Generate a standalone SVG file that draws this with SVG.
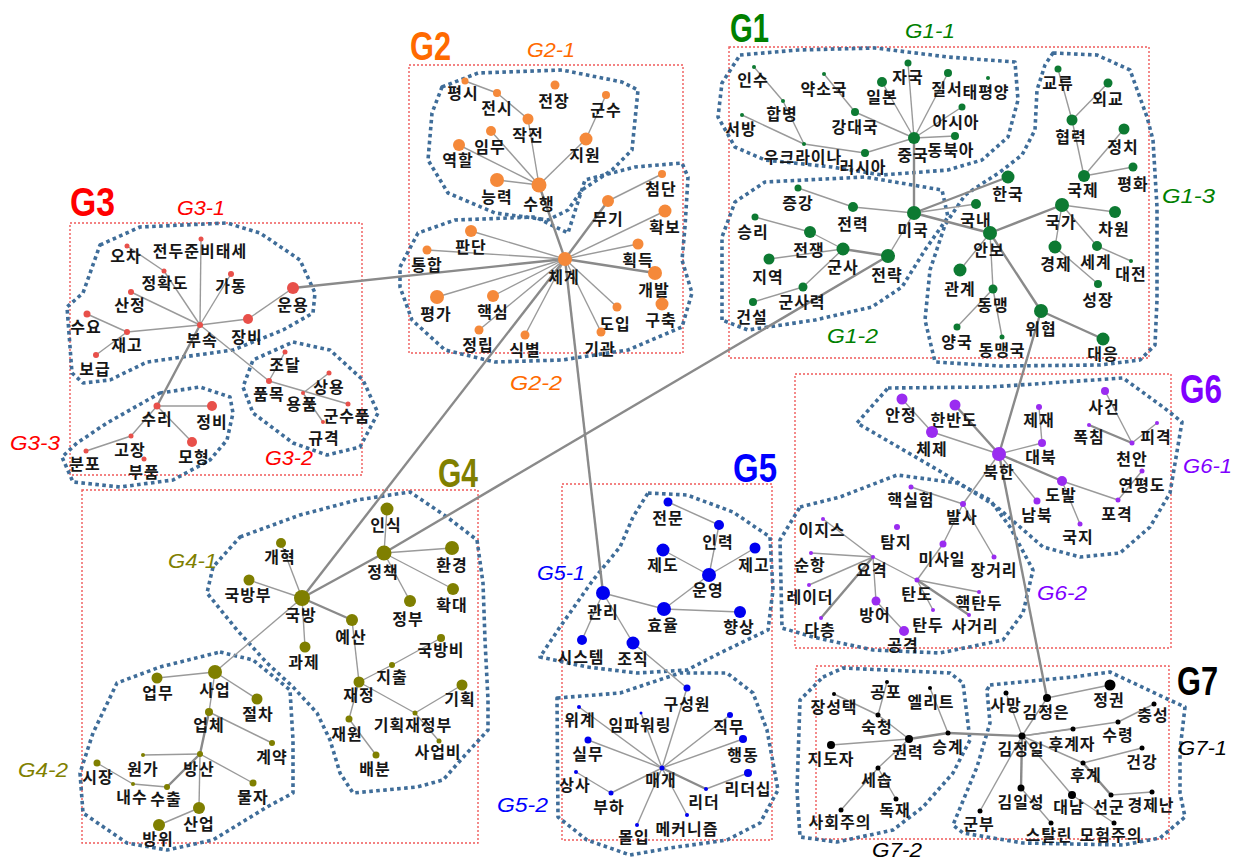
<svg xmlns="http://www.w3.org/2000/svg" width="1239" height="860" viewBox="0 0 1239 860">
<style>
.bg{fill:#fff}
.box{fill:none;stroke:#ef5a5a;stroke-width:1.4;stroke-dasharray:2 2}
.hull{fill:none;stroke:#3f6d99;stroke-width:3.6;stroke-dasharray:3.6 3.4;stroke-linejoin:round}
.e{stroke:#9a9a9a;stroke-width:1.4}
.t{stroke:#8a8a8a;stroke-width:2.4}
.n text{font-family:"Noto Sans CJK KR","Noto Sans",sans-serif;font-weight:bold;font-size:16px;letter-spacing:1px;fill:#161616;text-anchor:middle}
.c3 circle{fill:#e8504a}.c2 circle{fill:#f5893a}.c1 circle{fill:#0d7a32}.c6 circle{fill:#9a2cf0}.c4 circle{fill:#7f7f00}.c5 circle{fill:#0000f0}.c7 circle{fill:#000}
.tt{font-family:"Liberation Sans Narrow","Liberation Sans",sans-serif;font-weight:bold;font-size:40px}
.st{font-family:"Liberation Sans Narrow","Liberation Sans",sans-serif;font-style:italic;font-size:20px}
</style>
<rect class="bg" width="1239" height="860"/>
<g id="boxes">
<rect class="box" x="70" y="223" width="292" height="252"/>
<rect class="box" x="409" y="65" width="274" height="288"/>
<rect class="box" x="729" y="47" width="420" height="311"/>
<rect class="box" x="795" y="374" width="376" height="274"/>
<rect class="box" x="82" y="490" width="396" height="353"/>
<rect class="box" x="562" y="484" width="210" height="356"/>
<rect class="box" x="816" y="666" width="353" height="173"/>
</g>
<g id="hulls">
<polygon class="hull" points="100,245 140,227 227,223 260,233 300,260 315,293 313,313 283,330 233,350 147,362 110,380 83,383 72,373 67,307 83,293"/>
<polygon class="hull" points="293,342 330,350 363,380 378,413 360,447 327,455 293,443 253,413 243,387 253,360"/>
<polygon class="hull" points="160,393 200,387 230,397 233,413 227,440 210,460 173,480 120,487 73,482 62,457 77,443 107,423"/>
<polygon class="hull" points="442,87 478,73 562,70 622,82 638,90 632,150 612,170 582,190 568,210 548,220 495,213 448,193 428,160 432,113"/>
<polygon class="hull" points="400,267 418,233 455,220 535,217 568,233 585,180 635,167 682,163 688,177 685,227 682,260 692,293 682,327 628,350 562,360 495,362 445,350 412,320 400,287"/>
<polygon class="hull" points="740,55 798,50 875,48 948,57 1015,62 1018,100 1008,137 982,160 948,170 882,175 832,167 765,160 735,147 718,117 722,83"/>
<polygon class="hull" points="722,320 722,237 735,202 765,182 865,177 942,190 948,217 925,250 902,287 872,307 815,320 748,330"/>
<polygon class="hull" points="1053,53 1097,55 1130,70 1147,117 1153,140 1157,207 1157,300 1155,345 1140,360 1100,365 1000,366 935,362 925,320 930,270 945,225 965,195 1000,172 1022,155 1035,130 1037,90 1045,65"/>
<polygon class="hull" points="888,388 990,387 1123,378 1163,407 1182,422 1170,493 1150,527 1120,553 1080,557 1043,547 997,507 943,473 857,423"/>
<polygon class="hull" points="800,507 840,497 897,475 957,483 990,500 1010,527 1033,570 1023,613 1003,640 940,653 873,650 813,637 782,628 780,540"/>
<polygon class="hull" points="240,537 300,515 357,500 410,492 447,517 477,540 483,583 485,640 488,700 488,730 467,753 443,780 417,787 353,793 340,773 330,740 317,713 293,687 267,663 237,630 207,593 213,567"/>
<polygon class="hull" points="220,652 253,660 290,690 293,740 293,793 267,807 213,840 167,850 127,843 83,813 80,773 93,733 117,683 160,667"/>
<polygon class="hull" points="648,493 687,495 733,512 770,537 773,590 768,630 720,653 687,670 637,673 587,667 540,657 560,627 593,580 620,547 633,517"/>
<polygon class="hull" points="557,698 620,693 680,673 727,673 753,693 767,730 778,790 760,823 727,840 670,848 630,855 587,840 558,817"/>
<polygon class="hull" points="823,677 843,668 950,673 963,683 970,740 953,773 923,807 893,830 837,842 800,837 797,790 800,700"/>
<polygon class="hull" points="990,685 1073,677 1110,672 1163,697 1185,707 1180,750 1180,793 1185,817 1160,838 1123,845 1023,843 963,833 953,825 977,767 990,723 987,690"/>
</g>
<g id="titles">
<text class="tt" x="70" y="216" fill="#ff0000" textLength="45" lengthAdjust="spacingAndGlyphs">G3</text>
<text class="st" x="177" y="215" fill="#ff0000" textLength="48" lengthAdjust="spacingAndGlyphs">G3-1</text>
<text class="st" x="10" y="450" fill="#ff0000" textLength="50" lengthAdjust="spacingAndGlyphs">G3-3</text>
<text class="st" x="265" y="465" fill="#ff0000" textLength="48" lengthAdjust="spacingAndGlyphs">G3-2</text>
<text class="tt" x="410" y="60" fill="#ff6a00" textLength="41" lengthAdjust="spacingAndGlyphs">G2</text>
<text class="st" x="527" y="57" fill="#ff6a00" textLength="48" lengthAdjust="spacingAndGlyphs">G2-1</text>
<text class="st" x="510" y="390" fill="#ff6a00" textLength="52" lengthAdjust="spacingAndGlyphs">G2-2</text>
<text class="tt" x="730" y="42" fill="#008000" textLength="39" lengthAdjust="spacingAndGlyphs">G1</text>
<text class="st" x="905" y="38" fill="#008000" textLength="50" lengthAdjust="spacingAndGlyphs">G1-1</text>
<text class="st" x="827" y="343" fill="#008000" textLength="51" lengthAdjust="spacingAndGlyphs">G1-2</text>
<text class="st" x="1162" y="203" fill="#008000" textLength="53" lengthAdjust="spacingAndGlyphs">G1-3</text>
<text class="tt" x="1180" y="403" fill="#8000ff" textLength="42" lengthAdjust="spacingAndGlyphs">G6</text>
<text class="st" x="1183" y="473" fill="#8000ff" textLength="49" lengthAdjust="spacingAndGlyphs">G6-1</text>
<text class="st" x="1037" y="600" fill="#8000ff" textLength="50" lengthAdjust="spacingAndGlyphs">G6-2</text>
<text class="tt" x="438" y="487" fill="#808000" textLength="40" lengthAdjust="spacingAndGlyphs">G4</text>
<text class="st" x="168" y="568" fill="#808000" textLength="49" lengthAdjust="spacingAndGlyphs">G4-1</text>
<text class="st" x="18" y="777" fill="#808000" textLength="50" lengthAdjust="spacingAndGlyphs">G4-2</text>
<text class="tt" x="733" y="482" fill="#0000ff" textLength="44" lengthAdjust="spacingAndGlyphs">G5</text>
<text class="st" x="537" y="580" fill="#0000ff" textLength="48" lengthAdjust="spacingAndGlyphs">G5-1</text>
<text class="st" x="497" y="812" fill="#0000ff" textLength="51" lengthAdjust="spacingAndGlyphs">G5-2</text>
<text class="tt" x="1177" y="695" fill="#000" textLength="41" lengthAdjust="spacingAndGlyphs">G7</text>
<text class="st" x="1178" y="755" fill="#000" textLength="49" lengthAdjust="spacingAndGlyphs">G7-1</text>
<text class="st" x="872" y="857" fill="#000" textLength="50" lengthAdjust="spacingAndGlyphs">G7-2</text>
</g>
<g id="connectors">
<line class="e" x1="127" y1="246" x2="164" y2="271"/><line class="e" x1="164" y1="271" x2="200" y2="325"/><line class="e" x1="201" y1="239" x2="200" y2="325"/><line class="e" x1="231" y1="274" x2="200" y2="325"/><line class="e" x1="131" y1="292" x2="200" y2="325"/><line class="e" x1="87" y1="314" x2="127" y2="332"/><line class="e" x1="127" y1="332" x2="200" y2="325"/><line class="e" x1="96" y1="355" x2="127" y2="332"/><line class="e" x1="248" y1="319" x2="200" y2="325"/><line class="e" x1="293" y1="288" x2="248" y2="319"/><line class="e" x1="200" y1="325" x2="269" y2="381"/><line class="t" x1="200" y1="325" x2="157" y2="406"/><line class="e" x1="285" y1="352" x2="269" y2="381"/><line class="e" x1="269" y1="381" x2="348" y2="404"/><line class="e" x1="329" y1="373" x2="303" y2="393"/><line class="e" x1="303" y1="393" x2="323" y2="422"/><line class="e" x1="157" y1="406" x2="212" y2="406"/><line class="e" x1="157" y1="406" x2="131" y2="436"/><line class="e" x1="131" y1="436" x2="86" y2="451"/><line class="e" x1="157" y1="406" x2="192" y2="442"/>
<line class="t" x1="293" y1="288" x2="565" y2="259"/>
<line class="e" x1="465" y1="81" x2="497" y2="93"/><line class="e" x1="497" y1="93" x2="528" y2="119"/><line class="e" x1="528" y1="119" x2="539" y2="185"/><line class="e" x1="491" y1="131" x2="539" y2="185"/><line class="e" x1="459" y1="145" x2="539" y2="185"/><line class="e" x1="497" y1="180" x2="539" y2="185"/><line class="e" x1="586" y1="139" x2="539" y2="185"/><line class="e" x1="606" y1="95" x2="586" y2="139"/><line class="t" x1="539" y1="185" x2="565" y2="259"/><line class="e" x1="662" y1="174" x2="608" y2="201"/><line class="t" x1="608" y1="201" x2="565" y2="259"/><line class="e" x1="665" y1="211" x2="565" y2="259"/><line class="e" x1="638" y1="244" x2="565" y2="259"/><line class="t" x1="655" y1="273" x2="565" y2="259"/><line class="e" x1="471" y1="231" x2="565" y2="259"/><line class="e" x1="427" y1="250" x2="565" y2="259"/><line class="e" x1="437" y1="297" x2="565" y2="259"/><line class="e" x1="493" y1="296" x2="565" y2="259"/><line class="e" x1="479" y1="330" x2="565" y2="259"/><line class="e" x1="525" y1="335" x2="565" y2="259"/><line class="e" x1="617" y1="307" x2="565" y2="259"/><line class="e" x1="601" y1="332" x2="565" y2="259"/>
<line class="t" x1="565" y1="259" x2="302" y2="598"/><line class="t" x1="565" y1="259" x2="603" y2="593"/>
<line class="e" x1="754" y1="67" x2="783" y2="101"/><line class="e" x1="783" y1="101" x2="804" y2="144"/><line class="e" x1="742" y1="115" x2="804" y2="144"/><line class="e" x1="804" y1="144" x2="865" y2="153"/><line class="e" x1="865" y1="153" x2="914" y2="138"/><line class="e" x1="824" y1="74" x2="855" y2="112"/><line class="e" x1="855" y1="112" x2="914" y2="138"/><line class="e" x1="882" y1="82" x2="914" y2="138"/><line class="e" x1="908" y1="63" x2="914" y2="138"/><line class="e" x1="948" y1="73" x2="914" y2="138"/><line class="e" x1="962" y1="107" x2="914" y2="138"/><line class="e" x1="955" y1="136" x2="914" y2="138"/><line class="t" x1="914" y1="138" x2="914" y2="213"/>
<line class="e" x1="798" y1="188" x2="853" y2="207"/><line class="e" x1="853" y1="207" x2="914" y2="213"/><line class="e" x1="755" y1="217" x2="810" y2="232"/><line class="e" x1="810" y1="232" x2="843" y2="249"/><line class="t" x1="843" y1="249" x2="888" y2="256"/><line class="e" x1="888" y1="256" x2="914" y2="213"/><line class="e" x1="769" y1="259" x2="843" y2="249"/><line class="e" x1="843" y1="249" x2="803" y2="287"/><line class="e" x1="753" y1="302" x2="803" y2="287"/>
<line class="t" x1="888" y1="256" x2="384" y2="553"/>
<line class="e" x1="1058" y1="69" x2="1072" y2="120"/><line class="e" x1="1108" y1="83" x2="1072" y2="120"/><line class="e" x1="1072" y1="120" x2="1084" y2="176"/><line class="e" x1="1124" y1="129" x2="1084" y2="176"/><line class="e" x1="1133" y1="167" x2="1084" y2="176"/><line class="t" x1="914" y1="213" x2="1008" y2="177"/><line class="e" x1="914" y1="213" x2="976" y2="204"/><line class="t" x1="914" y1="213" x2="990" y2="233"/><line class="t" x1="990" y1="233" x2="1062" y2="205"/><line class="e" x1="1062" y1="205" x2="1115" y2="212"/><line class="e" x1="1062" y1="205" x2="1055" y2="247"/><line class="e" x1="1062" y1="205" x2="1097" y2="246"/><line class="e" x1="1097" y1="246" x2="1131" y2="261"/><line class="e" x1="1055" y1="247" x2="1098" y2="284"/><line class="e" x1="990" y1="233" x2="960" y2="270"/><line class="e" x1="990" y1="233" x2="993" y2="289"/><line class="t" x1="990" y1="233" x2="1041" y2="311"/><line class="e" x1="993" y1="289" x2="957" y2="327"/><line class="e" x1="993" y1="289" x2="1002" y2="337"/><line class="t" x1="1041" y1="311" x2="1103" y2="339"/>
<line class="t" x1="1041" y1="311" x2="999" y2="454"/>
<line class="e" x1="902" y1="399" x2="932" y2="432"/><line class="t" x1="955" y1="405" x2="999" y2="454"/><line class="e" x1="932" y1="432" x2="999" y2="454"/><line class="e" x1="1039" y1="407" x2="1042" y2="443"/><line class="e" x1="1042" y1="443" x2="999" y2="454"/><line class="t" x1="999" y1="454" x2="1062" y2="481"/><line class="e" x1="999" y1="454" x2="1037" y2="501"/><line class="e" x1="1062" y1="481" x2="1118" y2="500"/><line class="e" x1="1062" y1="481" x2="1080" y2="524"/><line class="e" x1="1105" y1="391" x2="1132" y2="443"/><line class="t" x1="1089" y1="425" x2="1132" y2="443"/><line class="e" x1="1157" y1="423" x2="1132" y2="443"/><line class="e" x1="1142" y1="471" x2="1118" y2="500"/><line class="e" x1="999" y1="454" x2="963" y2="504"/>
<line class="t" x1="999" y1="454" x2="1047" y2="698"/>
<line class="e" x1="911" y1="487" x2="963" y2="504"/><line class="e" x1="963" y1="504" x2="943" y2="544"/><line class="e" x1="963" y1="504" x2="994" y2="557"/><line class="e" x1="943" y1="544" x2="917" y2="580"/><line class="e" x1="823" y1="519" x2="873" y2="557"/><line class="e" x1="811" y1="553" x2="873" y2="557"/><line class="e" x1="809" y1="585" x2="873" y2="557"/><line class="t" x1="821" y1="618" x2="873" y2="557"/><line class="e" x1="873" y1="557" x2="876" y2="601"/><line class="e" x1="873" y1="557" x2="917" y2="580"/><line class="e" x1="917" y1="580" x2="979" y2="592"/><line class="e" x1="917" y1="580" x2="933" y2="610"/><line class="t" x1="917" y1="580" x2="969" y2="615"/><line class="e" x1="876" y1="601" x2="904" y2="631"/>
<line class="e" x1="387" y1="509" x2="384" y2="553"/><line class="e" x1="384" y1="553" x2="452" y2="548"/><line class="e" x1="384" y1="553" x2="453" y2="589"/><line class="e" x1="384" y1="553" x2="410" y2="601"/><line class="t" x1="384" y1="553" x2="302" y2="598"/><line class="e" x1="281" y1="543" x2="302" y2="598"/><line class="e" x1="249" y1="580" x2="302" y2="598"/><line class="t" x1="302" y1="598" x2="352" y2="620"/><line class="e" x1="302" y1="598" x2="305" y2="647"/><line class="e" x1="352" y1="620" x2="359" y2="682"/><line class="e" x1="359" y1="682" x2="392" y2="665"/><line class="e" x1="392" y1="665" x2="441" y2="638"/><line class="e" x1="359" y1="682" x2="415" y2="713"/><line class="e" x1="415" y1="713" x2="462" y2="685"/><line class="e" x1="415" y1="713" x2="439" y2="741"/><line class="e" x1="359" y1="682" x2="349" y2="719"/><line class="e" x1="349" y1="719" x2="376" y2="755"/>
<line class="e" x1="302" y1="598" x2="215" y2="672"/><line class="e" x1="157" y1="678" x2="215" y2="672"/><line class="e" x1="215" y1="672" x2="257" y2="699"/><line class="e" x1="215" y1="672" x2="209" y2="712"/><line class="t" x1="209" y1="712" x2="200" y2="754"/><line class="e" x1="209" y1="712" x2="272" y2="743"/><line class="e" x1="143" y1="755" x2="200" y2="754"/><line class="e" x1="200" y1="754" x2="253" y2="783"/><line class="t" x1="200" y1="754" x2="167" y2="787"/><line class="e" x1="200" y1="754" x2="199" y2="808"/><line class="e" x1="97" y1="763" x2="133" y2="784"/><line class="e" x1="133" y1="784" x2="167" y2="787"/><line class="e" x1="199" y1="808" x2="159" y2="825"/>
<line class="e" x1="668" y1="502" x2="719" y2="525"/><line class="e" x1="719" y1="525" x2="709" y2="575"/><line class="e" x1="663" y1="550" x2="709" y2="575"/><line class="e" x1="755" y1="548" x2="709" y2="575"/><line class="e" x1="709" y1="575" x2="664" y2="609"/><line class="e" x1="603" y1="593" x2="664" y2="609"/><line class="e" x1="664" y1="609" x2="740" y2="612"/><line class="e" x1="603" y1="593" x2="582" y2="640"/><line class="e" x1="603" y1="593" x2="633" y2="643"/><line class="e" x1="633" y1="643" x2="687" y2="688"/>
<line class="e" x1="662" y1="768" x2="687" y2="688"/><line class="e" x1="662" y1="768" x2="579" y2="707"/><line class="e" x1="662" y1="768" x2="641" y2="713"/><line class="e" x1="662" y1="768" x2="730" y2="715"/><line class="e" x1="662" y1="768" x2="588" y2="740"/><line class="e" x1="662" y1="768" x2="743" y2="739"/><line class="e" x1="576" y1="772" x2="611" y2="793"/><line class="e" x1="662" y1="768" x2="611" y2="793"/><line class="t" x1="662" y1="768" x2="706" y2="789"/><line class="e" x1="706" y1="789" x2="748" y2="773"/><line class="e" x1="662" y1="768" x2="687" y2="815"/><line class="e" x1="662" y1="768" x2="637" y2="825"/>
<line class="e" x1="834" y1="694" x2="878" y2="715"/><line class="e" x1="887" y1="682" x2="878" y2="715"/><line class="e" x1="878" y1="715" x2="909" y2="739"/><line class="e" x1="930" y1="688" x2="948" y2="733"/><line class="t" x1="909" y1="739" x2="948" y2="733"/><line class="e" x1="831" y1="745" x2="909" y2="739"/><line class="e" x1="909" y1="739" x2="878" y2="768"/><line class="e" x1="878" y1="768" x2="841" y2="810"/><line class="e" x1="878" y1="768" x2="896" y2="799"/><line class="t" x1="948" y1="733" x2="1022" y2="736"/>
<line class="e" x1="1047" y1="698" x2="1110" y2="685"/><line class="e" x1="1022" y1="736" x2="1047" y2="698"/><line class="e" x1="1022" y1="736" x2="1006" y2="693"/><line class="e" x1="1022" y1="736" x2="1073" y2="729"/><line class="e" x1="1022" y1="736" x2="1118" y2="722"/><line class="e" x1="1118" y1="722" x2="1154" y2="704"/><line class="e" x1="1022" y1="736" x2="1083" y2="763"/><line class="e" x1="1083" y1="763" x2="1142" y2="748"/><line class="t" x1="1083" y1="763" x2="1111" y2="795"/><line class="e" x1="1111" y1="795" x2="1152" y2="792"/><line class="t" x1="1022" y1="736" x2="1021" y2="788"/><line class="e" x1="1022" y1="736" x2="980" y2="811"/><line class="e" x1="1022" y1="736" x2="1072" y2="795"/><line class="e" x1="1021" y1="788" x2="1051" y2="823"/><line class="e" x1="1072" y1="795" x2="1114" y2="823"/>
</g>
<g id="G3" class="c3">
<g id="n3-01" class="n"><circle cx="127" cy="246" r="2.5"/><text x="126" y="262">오차</text></g>
<g id="n3-02" class="n"><circle cx="201" cy="239" r="2.5"/><text x="200" y="257">전두준비태세</text></g>
<g id="n3-03" class="n"><circle cx="164" cy="271" r="2.5"/><text x="165" y="289">정확도</text></g>
<g id="n3-04" class="n"><circle cx="231" cy="274" r="3"/><text x="231" y="292">가동</text></g>
<g id="n3-05" class="n"><circle cx="131" cy="292" r="3"/><text x="130" y="311">산정</text></g>
<g id="n3-06" class="n"><circle cx="293" cy="288" r="6"/><text x="293" y="311">운용</text></g>
<g id="n3-07" class="n"><circle cx="87" cy="314" r="3.5"/><text x="86" y="333">수요</text></g>
<g id="n3-08" class="n"><circle cx="200" cy="325" r="3"/><text x="202" y="346">부속</text></g>
<g id="n3-09" class="n"><circle cx="248" cy="319" r="5"/><text x="247" y="343">장비</text></g>
<g id="n3-10" class="n"><circle cx="127" cy="332" r="3"/><text x="127" y="351">재고</text></g>
<g id="n3-11" class="n"><circle cx="96" cy="355" r="3"/><text x="95" y="375">보급</text></g>
<g id="n3-12" class="n"><circle cx="285" cy="352" r="2.5"/><text x="285" y="371">조달</text></g>
<g id="n3-13" class="n"><circle cx="269" cy="381" r="3"/><text x="269" y="400">품목</text></g>
<g id="n3-14" class="n"><circle cx="329" cy="373" r="2.5"/><text x="329" y="393">상용</text></g>
<g id="n3-15" class="n"><circle cx="303" cy="393" r="2"/><text x="302" y="410">용품</text></g>
<g id="n3-16" class="n"><circle cx="348" cy="404" r="2.5"/><text x="347" y="422">군수품</text></g>
<g id="n3-17" class="n"><circle cx="323" cy="422" r="2"/><text x="324" y="444">규격</text></g>
<g id="n3-18" class="n"><circle cx="157" cy="406" r="3.5"/><text x="157" y="425">수리</text></g>
<g id="n3-19" class="n"><circle cx="212" cy="406" r="5"/><text x="212" y="428">정비</text></g>
<g id="n3-20" class="n"><circle cx="131" cy="436" r="2.5"/><text x="130" y="456">고장</text></g>
<g id="n3-21" class="n"><circle cx="86" cy="451" r="2.5"/><text x="85" y="470">분포</text></g>
<g id="n3-22" class="n"><circle cx="192" cy="442" r="5"/><text x="194" y="463">모형</text></g>
<g id="n3-23" class="n"><circle cx="144" cy="459" r="2.5"/><text x="144" y="478">부품</text></g>
</g>
<g id="G2" class="c2">
<g id="n2-01" class="n"><circle cx="465" cy="81" r="3.5"/><text x="463" y="99">평시</text></g>
<g id="n2-02" class="n"><circle cx="497" cy="93" r="4"/><text x="497" y="114">전시</text></g>
<g id="n2-03" class="n"><circle cx="555" cy="85" r="4.5"/><text x="554" y="107">전장</text></g>
<g id="n2-04" class="n"><circle cx="606" cy="95" r="4"/><text x="606" y="116">군수</text></g>
<g id="n2-05" class="n"><circle cx="528" cy="119" r="5.5"/><text x="528" y="141">작전</text></g>
<g id="n2-06" class="n"><circle cx="491" cy="131" r="5"/><text x="490" y="153">임무</text></g>
<g id="n2-07" class="n"><circle cx="459" cy="145" r="6"/><text x="458" y="166">역할</text></g>
<g id="n2-08" class="n"><circle cx="586" cy="139" r="6.5"/><text x="585" y="161">지원</text></g>
<g id="n2-09" class="n"><circle cx="497" cy="180" r="7"/><text x="497" y="203">능력</text></g>
<g id="n2-10" class="n"><circle cx="539" cy="185" r="7.5"/><text x="539" y="210">수행</text></g>
<g id="n2-11" class="n"><circle cx="662" cy="174" r="4"/><text x="661" y="195">첨단</text></g>
<g id="n2-12" class="n"><circle cx="608" cy="201" r="6"/><text x="608" y="225">무기</text></g>
<g id="n2-13" class="n"><circle cx="665" cy="211" r="6.5"/><text x="665" y="233">확보</text></g>
<g id="n2-14" class="n"><circle cx="471" cy="231" r="6"/><text x="471" y="253">판단</text></g>
<g id="n2-15" class="n"><circle cx="427" cy="250" r="4.5"/><text x="427" y="271">통합</text></g>
<g id="n2-16" class="n"><circle cx="638" cy="244" r="5.5"/><text x="638" y="266">획득</text></g>
<g id="n2-17" class="n"><circle cx="565" cy="259" r="7"/><text x="564" y="283">체계</text></g>
<g id="n2-18" class="n"><circle cx="655" cy="273" r="7"/><text x="654" y="296">개발</text></g>
<g id="n2-19" class="n"><circle cx="437" cy="297" r="7"/><text x="436" y="320">평가</text></g>
<g id="n2-20" class="n"><circle cx="493" cy="296" r="6"/><text x="493" y="318">핵심</text></g>
<g id="n2-21" class="n"><circle cx="662" cy="304" r="6.5"/><text x="661" y="326">구축</text></g>
<g id="n2-22" class="n"><circle cx="617" cy="307" r="4.5"/><text x="615" y="330">도입</text></g>
<g id="n2-23" class="n"><circle cx="479" cy="330" r="4.5"/><text x="478" y="351">정립</text></g>
<g id="n2-24" class="n"><circle cx="525" cy="335" r="4.5"/><text x="525" y="356">식별</text></g>
<g id="n2-25" class="n"><circle cx="601" cy="332" r="4.5"/><text x="600" y="355">기관</text></g>
</g>
<g id="G1" class="c1">
<g id="n1-01" class="n"><circle cx="754" cy="67" r="2"/><text x="753" y="86">인수</text></g>
<g id="n1-02" class="n"><circle cx="824" cy="74" r="2"/><text x="824" y="95">약소국</text></g>
<g id="n1-03" class="n"><circle cx="908" cy="63" r="3.5"/><text x="908" y="83">자국</text></g>
<g id="n1-04" class="n"><circle cx="882" cy="82" r="5"/><text x="882" y="103">일본</text></g>
<g id="n1-05" class="n"><circle cx="948" cy="73" r="4"/><text x="947" y="95">질서</text></g>
<g id="n1-06" class="n"><circle cx="988" cy="78" r="2"/><text x="986" y="98">태평양</text></g>
<g id="n1-07" class="n"><circle cx="783" cy="101" r="2"/><text x="782" y="120">합병</text></g>
<g id="n1-08" class="n"><circle cx="855" cy="112" r="4"/><text x="855" y="133">강대국</text></g>
<g id="n1-09" class="n"><circle cx="962" cy="107" r="3.5"/><text x="956" y="128">아시아</text></g>
<g id="n1-10" class="n"><circle cx="742" cy="115" r="2"/><text x="741" y="135">서방</text></g>
<g id="n1-11" class="n"><circle cx="914" cy="138" r="6"/><text x="913" y="161">중국</text></g>
<g id="n1-12" class="n"><circle cx="955" cy="136" r="4"/><text x="951" y="156">동북아</text></g>
<g id="n1-13" class="n"><circle cx="804" cy="144" r="2"/><text x="803" y="163">우크라이나</text></g>
<g id="n1-14" class="n"><circle cx="865" cy="153" r="4"/><text x="863" y="173">러시아</text></g>
<g id="n1-15" class="n"><circle cx="798" cy="188" r="3.5"/><text x="798" y="209">증강</text></g>
<g id="n1-16" class="n"><circle cx="853" cy="207" r="5"/><text x="853" y="230">전력</text></g>
<g id="n1-17" class="n"><circle cx="914" cy="213" r="7"/><text x="913" y="236">미국</text></g>
<g id="n1-18" class="n"><circle cx="755" cy="217" r="3.5"/><text x="753" y="238">승리</text></g>
<g id="n1-19" class="n"><circle cx="810" cy="232" r="6"/><text x="809" y="256">전쟁</text></g>
<g id="n1-20" class="n"><circle cx="843" cy="249" r="6.5"/><text x="843" y="273">군사</text></g>
<g id="n1-21" class="n"><circle cx="888" cy="256" r="7"/><text x="887" y="281">전략</text></g>
<g id="n1-22" class="n"><circle cx="769" cy="259" r="5.5"/><text x="768" y="283">지역</text></g>
<g id="n1-23" class="n"><circle cx="803" cy="287" r="4.5"/><text x="802" y="308">군사력</text></g>
<g id="n1-24" class="n"><circle cx="753" cy="302" r="4"/><text x="752" y="323">건설</text></g>
<g id="n1-25" class="n"><circle cx="1058" cy="69" r="3.5"/><text x="1058" y="89">교류</text></g>
<g id="n1-26" class="n"><circle cx="1108" cy="83" r="4.5"/><text x="1108" y="105">외교</text></g>
<g id="n1-27" class="n"><circle cx="1072" cy="120" r="5.5"/><text x="1071" y="143">협력</text></g>
<g id="n1-28" class="n"><circle cx="1124" cy="129" r="5.5"/><text x="1123" y="153">정치</text></g>
<g id="n1-29" class="n"><circle cx="1133" cy="167" r="4.5"/><text x="1133" y="190">평화</text></g>
<g id="n1-30" class="n"><circle cx="1084" cy="176" r="6"/><text x="1083" y="196">국제</text></g>
<g id="n1-31" class="n"><circle cx="1008" cy="177" r="6.5"/><text x="1008" y="200">한국</text></g>
<g id="n1-32" class="n"><circle cx="976" cy="204" r="5"/><text x="976" y="226">국내</text></g>
<g id="n1-33" class="n"><circle cx="1062" cy="205" r="7"/><text x="1061" y="228">국가</text></g>
<g id="n1-34" class="n"><circle cx="1115" cy="212" r="6"/><text x="1114" y="235">차원</text></g>
<g id="n1-35" class="n"><circle cx="990" cy="233" r="7"/><text x="989" y="256">안보</text></g>
<g id="n1-36" class="n"><circle cx="1055" cy="247" r="6.5"/><text x="1056" y="270">경제</text></g>
<g id="n1-37" class="n"><circle cx="1097" cy="246" r="5"/><text x="1096" y="268">세계</text></g>
<g id="n1-38" class="n"><circle cx="1131" cy="261" r="2"/><text x="1131" y="280">대전</text></g>
<g id="n1-39" class="n"><circle cx="960" cy="270" r="6.5"/><text x="960" y="295">관계</text></g>
<g id="n1-40" class="n"><circle cx="993" cy="289" r="4.5"/><text x="993" y="311">동맹</text></g>
<g id="n1-41" class="n"><circle cx="1098" cy="284" r="4"/><text x="1098" y="306">성장</text></g>
<g id="n1-42" class="n"><circle cx="1041" cy="311" r="7"/><text x="1041" y="335">위협</text></g>
<g id="n1-43" class="n"><circle cx="957" cy="327" r="3.5"/><text x="957" y="348">양국</text></g>
<g id="n1-44" class="n"><circle cx="1002" cy="337" r="2.5"/><text x="1002" y="356">동맹국</text></g>
<g id="n1-45" class="n"><circle cx="1103" cy="339" r="6.5"/><text x="1103" y="360">대응</text></g>
</g>
<g id="G6" class="c6">
<g id="n6-01" class="n"><circle cx="902" cy="399" r="5.5"/><text x="901" y="421">안정</text></g>
<g id="n6-02" class="n"><circle cx="955" cy="405" r="5.5"/><text x="954" y="426">한반도</text></g>
<g id="n6-03" class="n"><circle cx="932" cy="432" r="6"/><text x="932" y="455">체제</text></g>
<g id="n6-04" class="n"><circle cx="1039" cy="407" r="3"/><text x="1039" y="426">제재</text></g>
<g id="n6-05" class="n"><circle cx="1105" cy="391" r="4"/><text x="1104" y="413">사건</text></g>
<g id="n6-06" class="n"><circle cx="1089" cy="425" r="2"/><text x="1089" y="443">폭침</text></g>
<g id="n6-07" class="n"><circle cx="1157" cy="423" r="2"/><text x="1156" y="443">피격</text></g>
<g id="n6-08" class="n"><circle cx="1042" cy="443" r="4"/><text x="1041" y="463">대북</text></g>
<g id="n6-09" class="n"><circle cx="1132" cy="443" r="2.5"/><text x="1132" y="465">천안</text></g>
<g id="n6-10" class="n"><circle cx="999" cy="454" r="7"/><text x="999" y="478">북한</text></g>
<g id="n6-11" class="n"><circle cx="1142" cy="471" r="2.5"/><text x="1142" y="491">연평도</text></g>
<g id="n6-12" class="n"><circle cx="1062" cy="481" r="5"/><text x="1061" y="501">도발</text></g>
<g id="n6-13" class="n"><circle cx="1037" cy="501" r="3.5"/><text x="1037" y="521">남북</text></g>
<g id="n6-14" class="n"><circle cx="1118" cy="500" r="2.5"/><text x="1117" y="520">포격</text></g>
<g id="n6-15" class="n"><circle cx="1080" cy="524" r="2.5"/><text x="1078" y="543">국지</text></g>
<g id="n6-16" class="n"><circle cx="911" cy="487" r="2.5"/><text x="911" y="506">핵실험</text></g>
<g id="n6-17" class="n"><circle cx="963" cy="504" r="3"/><text x="962" y="523">발사</text></g>
<g id="n6-18" class="n"><circle cx="823" cy="519" r="2"/><text x="822" y="536">이지스</text></g>
<g id="n6-19" class="n"><circle cx="897" cy="527" r="3"/><text x="896" y="548">탐지</text></g>
<g id="n6-20" class="n"><circle cx="943" cy="544" r="3.5"/><text x="942" y="565">미사일</text></g>
<g id="n6-21" class="n"><circle cx="811" cy="553" r="2"/><text x="810" y="571">순항</text></g>
<g id="n6-22" class="n"><circle cx="873" cy="557" r="2"/><text x="872" y="576">요격</text></g>
<g id="n6-23" class="n"><circle cx="994" cy="557" r="2.5"/><text x="994" y="576">장거리</text></g>
<g id="n6-24" class="n"><circle cx="917" cy="580" r="2.5"/><text x="917" y="600">탄도</text></g>
<g id="n6-25" class="n"><circle cx="809" cy="585" r="2"/><text x="810" y="603">레이더</text></g>
<g id="n6-26" class="n"><circle cx="979" cy="592" r="2"/><text x="979" y="609">핵탄두</text></g>
<g id="n6-27" class="n"><circle cx="876" cy="601" r="4.5"/><text x="875" y="621">방어</text></g>
<g id="n6-28" class="n"><circle cx="933" cy="610" r="2"/><text x="928" y="631">탄두</text></g>
<g id="n6-29" class="n"><circle cx="969" cy="615" r="2"/><text x="975" y="632">사거리</text></g>
<g id="n6-30" class="n"><circle cx="821" cy="618" r="2"/><text x="820" y="636">다층</text></g>
<g id="n6-31" class="n"><circle cx="904" cy="631" r="5"/><text x="903" y="651">공격</text></g>
</g>
<g id="G4" class="c4">
<g id="n4-01" class="n"><circle cx="387" cy="509" r="6.5"/><text x="386" y="531">인식</text></g>
<g id="n4-02" class="n"><circle cx="281" cy="543" r="5"/><text x="280" y="563">개혁</text></g>
<g id="n4-03" class="n"><circle cx="384" cy="553" r="7.5"/><text x="383" y="578">정책</text></g>
<g id="n4-04" class="n"><circle cx="452" cy="548" r="7"/><text x="452" y="571">환경</text></g>
<g id="n4-05" class="n"><circle cx="249" cy="580" r="5.5"/><text x="248" y="601">국방부</text></g>
<g id="n4-06" class="n"><circle cx="453" cy="589" r="6"/><text x="452" y="611">확대</text></g>
<g id="n4-07" class="n"><circle cx="302" cy="598" r="8"/><text x="301" y="621">국방</text></g>
<g id="n4-08" class="n"><circle cx="410" cy="601" r="6"/><text x="408" y="625">정부</text></g>
<g id="n4-09" class="n"><circle cx="352" cy="620" r="6"/><text x="351" y="643">예산</text></g>
<g id="n4-10" class="n"><circle cx="305" cy="647" r="5.5"/><text x="304" y="668">과제</text></g>
<g id="n4-11" class="n"><circle cx="441" cy="638" r="4"/><text x="441" y="656">국방비</text></g>
<g id="n4-12" class="n"><circle cx="392" cy="665" r="3"/><text x="392" y="683">지출</text></g>
<g id="n4-13" class="n"><circle cx="359" cy="682" r="5.5"/><text x="359" y="701">재정</text></g>
<g id="n4-14" class="n"><circle cx="462" cy="685" r="5.5"/><text x="460" y="705">기획</text></g>
<g id="n4-15" class="n"><circle cx="415" cy="713" r="2.5"/><text x="413" y="731">기획재정부</text></g>
<g id="n4-16" class="n"><circle cx="349" cy="719" r="3.5"/><text x="347" y="740">재원</text></g>
<g id="n4-17" class="n"><circle cx="439" cy="741" r="2.5"/><text x="438" y="758">사업비</text></g>
<g id="n4-18" class="n"><circle cx="376" cy="755" r="3.5"/><text x="375" y="775">배분</text></g>
<g id="n4-19" class="n"><circle cx="157" cy="678" r="5.5"/><text x="158" y="699">업무</text></g>
<g id="n4-20" class="n"><circle cx="215" cy="672" r="7"/><text x="215" y="696">사업</text></g>
<g id="n4-21" class="n"><circle cx="257" cy="699" r="5.5"/><text x="258" y="720">절차</text></g>
<g id="n4-22" class="n"><circle cx="209" cy="712" r="4"/><text x="209" y="731">업체</text></g>
<g id="n4-23" class="n"><circle cx="272" cy="743" r="3"/><text x="272" y="763">계약</text></g>
<g id="n4-24" class="n"><circle cx="143" cy="755" r="2"/><text x="143" y="775">원가</text></g>
<g id="n4-25" class="n"><circle cx="200" cy="754" r="3"/><text x="199" y="775">방산</text></g>
<g id="n4-26" class="n"><circle cx="97" cy="763" r="3.5"/><text x="98" y="783">시장</text></g>
<g id="n4-27" class="n"><circle cx="133" cy="784" r="2"/><text x="132" y="803">내수</text></g>
<g id="n4-28" class="n"><circle cx="167" cy="787" r="3"/><text x="166" y="805">수출</text></g>
<g id="n4-29" class="n"><circle cx="253" cy="783" r="3.5"/><text x="253" y="803">물자</text></g>
<g id="n4-30" class="n"><circle cx="199" cy="808" r="6"/><text x="199" y="830">산업</text></g>
<g id="n4-31" class="n"><circle cx="159" cy="825" r="6"/><text x="158" y="845">방위</text></g>
</g>
<g id="G5" class="c5">
<g id="n5-01" class="n"><circle cx="668" cy="502" r="4.5"/><text x="668" y="524">전문</text></g>
<g id="n5-02" class="n"><circle cx="719" cy="525" r="5"/><text x="718" y="548">인력</text></g>
<g id="n5-03" class="n"><circle cx="663" cy="550" r="6.5"/><text x="663" y="571">제도</text></g>
<g id="n5-04" class="n"><circle cx="755" cy="548" r="5.5"/><text x="754" y="571">제고</text></g>
<g id="n5-05" class="n"><circle cx="709" cy="575" r="7"/><text x="708" y="596">운영</text></g>
<g id="n5-06" class="n"><circle cx="603" cy="593" r="7"/><text x="603" y="618">관리</text></g>
<g id="n5-07" class="n"><circle cx="664" cy="609" r="7"/><text x="663" y="631">효율</text></g>
<g id="n5-08" class="n"><circle cx="740" cy="612" r="6"/><text x="739" y="633">향상</text></g>
<g id="n5-09" class="n"><circle cx="582" cy="640" r="5"/><text x="581" y="663">시스템</text></g>
<g id="n5-10" class="n"><circle cx="633" cy="643" r="6.5"/><text x="633" y="665">조직</text></g>
<g id="n5-11" class="n"><circle cx="687" cy="688" r="3.5"/><text x="687" y="710">구성원</text></g>
<g id="n5-12" class="n"><circle cx="579" cy="707" r="2"/><text x="580" y="726">위계</text></g>
<g id="n5-13" class="n"><circle cx="641" cy="713" r="1.5"/><text x="640" y="731">임파워링</text></g>
<g id="n5-14" class="n"><circle cx="730" cy="715" r="3"/><text x="729" y="733">직무</text></g>
<g id="n5-15" class="n"><circle cx="588" cy="740" r="3.5"/><text x="588" y="760">실무</text></g>
<g id="n5-16" class="n"><circle cx="743" cy="739" r="4"/><text x="743" y="761">행동</text></g>
<g id="n5-17" class="n"><circle cx="662" cy="768" r="2.5"/><text x="661" y="786">매개</text></g>
<g id="n5-18" class="n"><circle cx="576" cy="772" r="2"/><text x="575" y="791">상사</text></g>
<g id="n5-19" class="n"><circle cx="748" cy="773" r="4"/><text x="748" y="795">리더십</text></g>
<g id="n5-20" class="n"><circle cx="706" cy="789" r="2"/><text x="704" y="808">리더</text></g>
<g id="n5-21" class="n"><circle cx="611" cy="793" r="2.5"/><text x="609" y="813">부하</text></g>
<g id="n5-22" class="n"><circle cx="687" cy="815" r="2"/><text x="687" y="835">메커니즘</text></g>
<g id="n5-23" class="n"><circle cx="637" cy="825" r="2"/><text x="634" y="843">몰입</text></g>
</g>
<g id="G7" class="c7">
<g id="n7-01" class="n"><circle cx="834" cy="694" r="2"/><text x="834" y="713">장성택</text></g>
<g id="n7-02" class="n"><circle cx="887" cy="682" r="2"/><text x="886" y="698">공포</text></g>
<g id="n7-03" class="n"><circle cx="930" cy="688" r="2"/><text x="931" y="708">엘리트</text></g>
<g id="n7-04" class="n"><circle cx="878" cy="715" r="2.5"/><text x="877" y="733">숙청</text></g>
<g id="n7-05" class="n"><circle cx="909" cy="739" r="4"/><text x="908" y="758">권력</text></g>
<g id="n7-06" class="n"><circle cx="948" cy="733" r="2.5"/><text x="948" y="753">승계</text></g>
<g id="n7-07" class="n"><circle cx="831" cy="745" r="4"/><text x="831" y="765">지도자</text></g>
<g id="n7-08" class="n"><circle cx="878" cy="768" r="2.5"/><text x="877" y="786">세습</text></g>
<g id="n7-09" class="n"><circle cx="896" cy="799" r="2.5"/><text x="895" y="816">독재</text></g>
<g id="n7-10" class="n"><circle cx="841" cy="810" r="2.5"/><text x="840" y="828">사회주의</text></g>
<g id="n7-11" class="n"><circle cx="1006" cy="693" r="2.5"/><text x="1006" y="711">사망</text></g>
<g id="n7-12" class="n"><circle cx="1047" cy="698" r="4"/><text x="1046" y="718">김정은</text></g>
<g id="n7-13" class="n"><circle cx="1110" cy="685" r="5.5"/><text x="1109" y="706">정권</text></g>
<g id="n7-14" class="n"><circle cx="1154" cy="704" r="2.5"/><text x="1153" y="721">충성</text></g>
<g id="n7-15" class="n"><circle cx="1118" cy="722" r="2.5"/><text x="1118" y="741">수령</text></g>
<g id="n7-16" class="n"><circle cx="1073" cy="729" r="2.5"/><text x="1072" y="750">후계자</text></g>
<g id="n7-17" class="n"><circle cx="1022" cy="736" r="3.5"/><text x="1021" y="755">김정일</text></g>
<g id="n7-18" class="n"><circle cx="1142" cy="748" r="2.5"/><text x="1142" y="768">건강</text></g>
<g id="n7-19" class="n"><circle cx="1083" cy="763" r="2.5"/><text x="1086" y="781">후계</text></g>
<g id="n7-20" class="n"><circle cx="1021" cy="788" r="3.5"/><text x="1021" y="808">김일성</text></g>
<g id="n7-21" class="n"><circle cx="1072" cy="795" r="4"/><text x="1069" y="813">대남</text></g>
<g id="n7-22" class="n"><circle cx="1111" cy="795" r="2.5"/><text x="1109" y="813">선군</text></g>
<g id="n7-23" class="n"><circle cx="1152" cy="792" r="2.5"/><text x="1151" y="811">경제난</text></g>
<g id="n7-24" class="n"><circle cx="980" cy="811" r="2.5"/><text x="979" y="830">군부</text></g>
<g id="n7-25" class="n"><circle cx="1051" cy="823" r="2.5"/><text x="1049" y="841">스탈린</text></g>
<g id="n7-26" class="n"><circle cx="1114" cy="823" r="2.5"/><text x="1111" y="841">모험주의</text></g>
</g>
</svg>
